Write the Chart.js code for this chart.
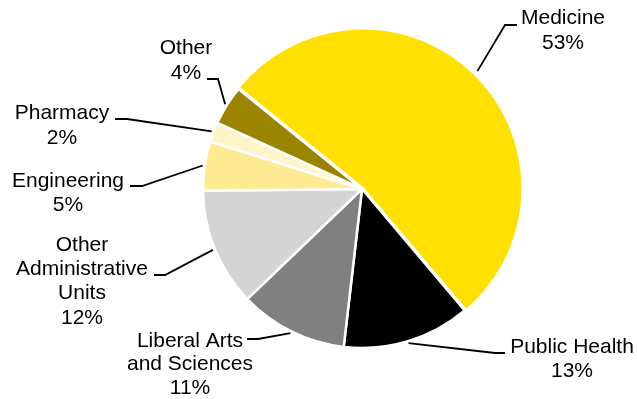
<!DOCTYPE html>
<html>
<head>
<meta charset="utf-8">
<script src="https://cdn.jsdelivr.net/npm/chart.js@4"></script>
<style>
  html, body { margin: 0; padding: 0; background: #fff; }
  #wrap { width: 637px; height: 399px; }
</style>
</head>
<body>
<div id="wrap"><canvas id="pieChart" width="637" height="399"></canvas></div>
<script>
const categories = ["Medicine", "Public Health", "Liberal Arts and Sciences", "Other Administrative Units", "Engineering", "Pharmacy", "Other"];
const shares = [53, 13, 11, 12, 5, 2, 4];
const sliceColors = ["#FFE000", "#000000", "#808080", "#D4D4D4", "#FFEA94", "#FFF5C8", "#9B8500"];

// label placement: text lines, text centre x, line y's, elbow and end of leader
const labelLayout = [
  { lines: ["Medicine"], x: 563, y: [18, 43], elbow: [505, 25], end: [517, 25] },
  { lines: ["Public Health"], x: 572, y: [347, 371], elbow: [495, 353], end: [505, 353] },
  { lines: ["Liberal Arts", "and Sciences"], x: 190, y: [341, 364, 388], elbow: [258, 339], end: [247, 339] },
  { lines: ["Other", "Administrative", "Units"], x: 82, y: [245, 269, 293, 318], elbow: [165, 275], end: [154, 275] },
  { lines: ["Engineering"], x: 68, y: [181, 205], elbow: [142, 186], end: [130, 186] },
  { lines: ["Pharmacy"], x: 62, y: [113, 138], elbow: [127, 119], end: [115, 119] },
  { lines: ["Other"], x: 186, y: [48, 73], elbow: [218, 79], end: [207, 79] }
];

const leaderLabels = {
  id: "leaderLabels",
  afterDraw(chart) {
    const ctx = chart.ctx;
    const meta = chart.getDatasetMeta(0);
    ctx.save();
    ctx.font = "21px 'Liberation Sans', Arial, sans-serif";
    ctx.fillStyle = "#000";
    ctx.strokeStyle = "#000";
    ctx.lineWidth = 1.8;
    ctx.textAlign = "center";
    ctx.textBaseline = "middle";
    meta.data.forEach((arc, i) => {
      const p = arc.getProps(["x", "y", "startAngle", "endAngle", "outerRadius"], true);
      const mid = (p.startAngle + p.endAngle) / 2;
      const off = arc.options.offset || 0;
      const r = p.outerRadius + 2 + off;
      const sx = p.x + Math.cos(mid) * r;
      const sy = p.y + Math.sin(mid) * r;
      const lay = labelLayout[i];
      ctx.beginPath();
      ctx.moveTo(sx, sy);
      ctx.lineTo(lay.elbow[0], lay.elbow[1]);
      ctx.lineTo(lay.end[0], lay.end[1]);
      ctx.stroke();
      const texts = lay.lines.concat([shares[i] + "%"]);
      texts.forEach((t, k) => ctx.fillText(t, lay.x, lay.y[k]));
    });
    ctx.restore();
  }
};

new Chart(document.getElementById("pieChart"), {
  type: "pie",
  data: {
    labels: categories,
    datasets: [{
      data: shares,
      backgroundColor: sliceColors,
      borderColor: "#fff",
      borderWidth: 2.5,
      offset: [4, 0, 0, 0, 0, 0, 0]
    }]
  },
  options: {
    responsive: false,
    animation: false,
    rotation: -51,
    radius: 159,
    layout: { padding: { left: 100, right: 13, top: 12, bottom: 33 } },
    plugins: {
      legend: { display: false },
      tooltip: { enabled: false }
    }
  },
  plugins: [leaderLabels]
});
</script>
</body>
</html>
